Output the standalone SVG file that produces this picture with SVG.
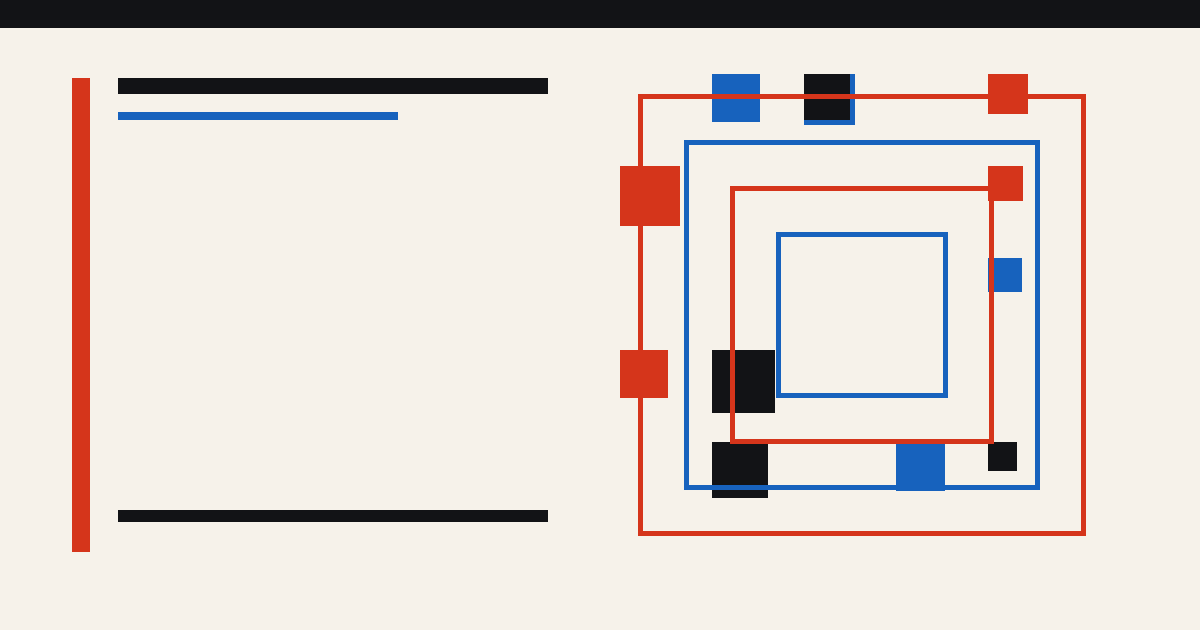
<svg xmlns="http://www.w3.org/2000/svg" width="1200" height="630" viewBox="0 0 1200 630">
  <style>
    .red { fill: #D5351B; }
    .blue { fill: #1762BD; }
    .ink { fill: #121316; }
    .fr { fill: none; stroke: #D5351B; stroke-width: 5; }
    .fb { fill: none; stroke: #1762BD; stroke-width: 5; }
  </style>
  <rect width="1200" height="630" fill="#F6F2EA"/>
  <rect id="header" x="0" y="0" width="1200" height="28" class="ink"/>
  <g id="left-panel">
    <rect x="72" y="78" width="18" height="474" class="red"/>
    <rect x="118" y="78" width="430" height="16" class="ink"/>
    <rect x="118" y="112" width="280" height="8" class="blue"/>
    <rect x="118" y="510" width="430" height="12" class="ink"/>
  </g>
  <g id="squares">
    <rect x="712" y="74" width="48" height="48" class="blue"/>
    <rect x="804" y="74" width="51" height="51" class="blue"/>
    <rect x="804" y="74" width="46" height="46" class="ink"/>
    <rect x="988" y="74" width="40" height="40" class="red"/>
    <rect x="988" y="258" width="34" height="34" class="blue"/>
    <rect x="712" y="350" width="63" height="63" class="ink"/>
    <rect x="712" y="442" width="56" height="56" class="ink"/>
    <rect x="896" y="442" width="49" height="49" class="blue"/>
    <rect x="988" y="442" width="29" height="29" class="ink"/>
  </g>
  <g id="frames">
    <rect x="640.5" y="96.5" width="443" height="437" class="fr"/>
    <rect x="686.5" y="142.5" width="351" height="345" class="fb"/>
    <rect x="732.5" y="188.5" width="259" height="253" class="fr"/>
    <rect x="778.5" y="234.5" width="167" height="161" class="fb"/>
  </g>
  <g id="red-markers">
    <rect x="620" y="166" width="60" height="60" class="red"/>
    <rect x="620" y="350" width="48" height="48" class="red"/>
    <rect x="988" y="166" width="35" height="35" class="red"/>
  </g>
</svg>
